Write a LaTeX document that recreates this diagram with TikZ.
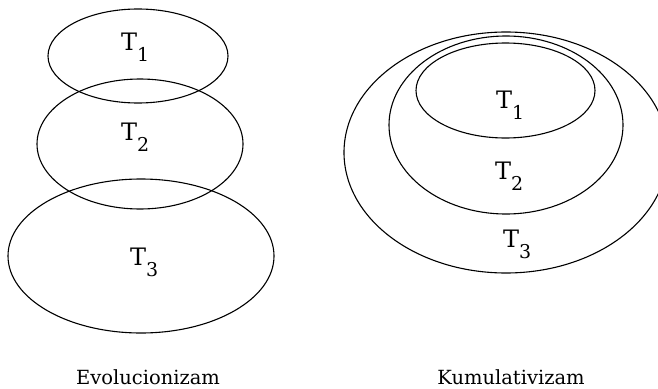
\documentclass[tikz,border=0pt]{standalone}
\usepackage{fontspec}
\setmainfont{DejaVu Serif}
\newcommand\lsub[1]{\raisebox{-11pt}{\fontsize{19}{19}\selectfont #1}}
\begin{document}
\begin{tikzpicture}[x=1pt,y=-1pt,
  ell/.style={draw=black,line width=1.1pt},
  lab/.style={anchor=base west,inner sep=0pt,font=\fontsize{24}{24}\selectfont},
  capt/.style={anchor=base,inner sep=0pt,font=\fontsize{19.5}{19.5}\selectfont}]
\useasboundingbox (0,0) rectangle (658,388);
\begin{scope}
\clip (0,0) rectangle (658,388);
% left: evolucionizam
\draw[ell] (138,56) ellipse [x radius=90, y radius=47];
\draw[ell] (140,144) ellipse [x radius=103, y radius=65];
\draw[ell] (141,256) ellipse [x radius=133, y radius=77];
% right: kumulativizam
\draw[ell] (506,152.5) ellipse [x radius=162, y radius=120.5];
\draw[ell] (506,125) ellipse [x radius=117, y radius=89];
\draw[ell] (505.5,90.5) ellipse [x radius=89.5, y radius=47.5];
\end{scope}
\node[lab] (a1) at (121,50) {T\lsub{1}};
\node[lab] (a2) at (121,140) {T\lsub{2}};
\node[lab] (a3) at (130,265) {T\lsub{3}};
\node[lab] (b1) at (496,108) {T\lsub{1}};
\node[lab] (b2) at (495,179) {T\lsub{2}};
\node[lab] (b3) at (503,247) {T\lsub{3}};
\node[capt] (ce) at (148,384) {Evolucionizam};
\node[capt] (ck) at (511,384) {Kumulativizam};
\end{tikzpicture}
\end{document}
